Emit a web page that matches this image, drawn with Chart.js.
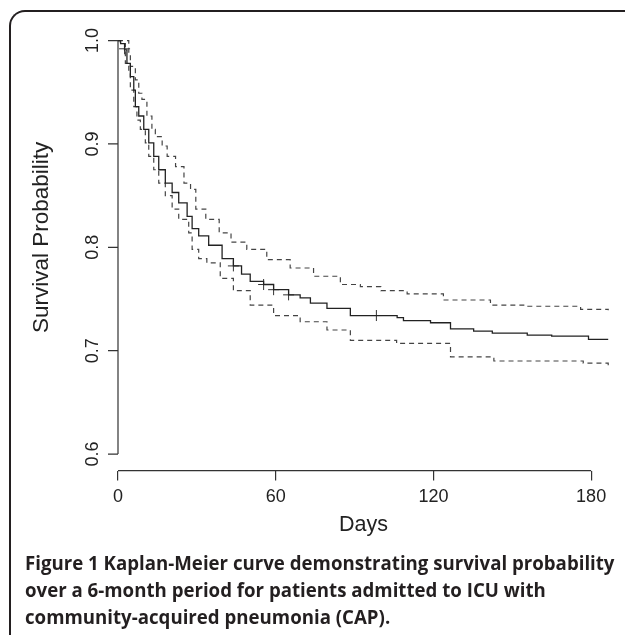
<!DOCTYPE html>
<html>
<head>
<meta charset="utf-8">
<script src="https://cdn.jsdelivr.net/npm/chart.js@4.4.1/dist/chart.umd.min.js"></script>
<style>
html, body { margin: 0; padding: 0; background: #fff; }
body { width: 625px; height: 635px; position: relative; overflow: hidden; }
#marco {
    position: absolute; left: 9px; top: 10px; width: 640px; height: 640px;
    border-top: 2px solid #231f20; border-left: 2px solid #231f20;
    border-top-left-radius: 16px; box-sizing: border-box;
}
#contenedor { position: absolute; left: 0; top: 0; width: 625px; height: 555px; }
#pie {
    position: absolute; left: 25px; top: 549px;
    font-family: "Open Sans", Lato, sans-serif; font-weight: bold; font-size: 18px;
    line-height: 27px; color: #231f20; white-space: nowrap;
}
#pie span { display: inline-block; }
</style>
</head>
<body>
<div id="marco"></div>
<div id="contenedor"><canvas id="graficaKM"></canvas></div>
<div id="pie"><span id="linea1">Figure 1 Kaplan-Meier curve demonstrating survival probability</span><br><span>over a 6-month period for patients admitted to ICU with</span><br><span>community-acquired pneumonia (CAP).</span></div>
<script>
// curva Kaplan-Meier (dias, supervivencia)
const diasKM = [0, 1, 2.5, 3.4, 4.7, 6.0, 6.6, 7.9, 9.8, 11.7, 13.6, 15.5, 18.0, 20.6, 23.1, 26.3, 28.2, 30.7, 34.5, 39.6,
    43.9, 47, 50.3, 55.4, 59.2, 64.9, 69.3, 73.2, 79.5, 88.4, 106.2, 108.6, 118.9, 126.5, 135.3, 142.4, 155.7, 165, 179, 186.5];
const valoresKM = [1.0, 0.997, 0.991, 0.978, 0.965, 0.952, 0.936, 0.927, 0.914, 0.901, 0.888, 0.875, 0.862, 0.853, 0.843, 0.830, 0.818, 0.811, 0.802, 0.789,
    0.782, 0.774, 0.767, 0.764, 0.759, 0.754, 0.751, 0.746, 0.741, 0.734, 0.732, 0.729, 0.727, 0.721, 0.719, 0.717, 0.715, 0.714, 0.711, 0.711];

// limite superior del intervalo
const diasSup = [0, 1.5, 4.1, 4.7, 6.6, 7.9, 9.1, 11, 12.9, 14.2, 16.8, 18.7, 21.9, 25.1, 27.6, 29.6, 33.4, 38.5, 43, 49,
    56.6, 65.5, 74.4, 84.6, 92.2, 100, 110, 123.8, 141.7, 155.7, 176, 186.5];
const valoresSup = [1.0, 1.0, 0.988, 0.975, 0.962, 0.949, 0.943, 0.927, 0.914, 0.907, 0.898, 0.888, 0.878, 0.862, 0.856, 0.837, 0.827, 0.814, 0.805, 0.798,
    0.788, 0.780, 0.772, 0.764, 0.762, 0.758, 0.755, 0.749, 0.744, 0.743, 0.740, 0.739];

// limite inferior del intervalo
const diasInf = [0, 0.9, 2.8, 4.1, 4.7, 6.0, 7.2, 8.5, 10.4, 11.7, 13.6, 15.5, 18.0, 20.6, 23.1, 26.9, 28.2, 30.7, 33.8, 38.9,
    43.9, 50.3, 59.2, 69.3, 79.5, 88.4, 106, 126.5, 143, 177, 186.5];
const valoresInf = [1.0, 0.997, 0.978, 0.968, 0.952, 0.936, 0.923, 0.914, 0.901, 0.888, 0.875, 0.862, 0.850, 0.837, 0.827, 0.814, 0.798, 0.789, 0.785, 0.770,
    0.758, 0.744, 0.734, 0.728, 0.720, 0.710, 0.707, 0.694, 0.690, 0.688, 0.685];

// censurados (+)
const diasCens = [2.5, 43.9, 55.4, 59.2, 64.9, 98.3];
const valoresCens = [0.992, 0.782, 0.764, 0.759, 0.754, 0.734];

const ticksX = [0, 60, 120, 180];
const ticksY = [0.6, 0.7, 0.8, 0.9, 1.0];
const etiquetasY = ['0.6', '0.7', '0.8', '0.9', '1.0'];

function puntos(xs, ys) {
    return xs.map((x, i) => ({ x: x, y: ys[i] }));
}

// ajustar el pie de figura al ancho del original
var linea1 = document.getElementById('linea1');
var pie = document.getElementById('pie');
pie.style.fontSize = (18 * 590 / linea1.offsetWidth).toFixed(2) + 'px';

// eje y estilo R (etiquetas giradas) y linea del eje x
const ejesR = {
    id: 'ejesR',
    afterDraw(chart) {
        const ctx = chart.ctx;
        const sy = chart.scales.y;
        const sx = chart.scales.x;
        const izq = chart.chartArea.left;
        const abajo = chart.chartArea.bottom;
        ctx.save();
        ctx.strokeStyle = '#333';
        ctx.lineWidth = 1.2;
        ctx.beginPath();
        ctx.moveTo(izq, sy.getPixelForValue(0.6));
        ctx.lineTo(izq, sy.getPixelForValue(1.0));
        ticksY.forEach(v => {
            const py = sy.getPixelForValue(v);
            ctx.moveTo(izq - 10, py);
            ctx.lineTo(izq, py);
        });
        ctx.moveTo(sx.getPixelForValue(0), abajo);
        ctx.lineTo(sx.getPixelForValue(180), abajo);
        ctx.stroke();

        ctx.fillStyle = '#222';
        ctx.font = '18px "Liberation Sans", Arial, sans-serif';
        ctx.textAlign = 'center';
        ctx.textBaseline = 'middle';
        etiquetasY.forEach((t, i) => {
            ctx.save();
            ctx.translate(93, sy.getPixelForValue(ticksY[i]));
            ctx.rotate(-Math.PI / 2);
            ctx.fillText(t, 0, 0);
            ctx.restore();
        });
        ctx.font = '22.5px "Liberation Sans", Arial, sans-serif';
        ctx.save();
        ctx.translate(42, sy.getPixelForValue(0.8) - 10);
        ctx.rotate(-Math.PI / 2);
        ctx.fillText('Survival Probability', 0, 0);
        ctx.restore();
        ctx.restore();
    }
};

const fuente = { family: '"Liberation Sans", Arial, sans-serif', size: 18 };
const fuenteTitulo = { family: '"Liberation Sans", Arial, sans-serif', size: 21.5 };

new Chart(document.getElementById('graficaKM').getContext('2d'), {
    type: 'line',
    data: {
        datasets: [
            {
                label: 'KM',
                data: puntos(diasKM, valoresKM),
                stepped: true,
                borderColor: '#222',
                borderWidth: 1.3,
                pointRadius: 0,
                fill: false
            },
            {
                label: 'Superior',
                data: puntos(diasSup, valoresSup),
                stepped: true,
                borderColor: '#444',
                borderWidth: 1.2,
                borderDash: [5, 4],
                pointRadius: 0,
                fill: false
            },
            {
                label: 'Inferior',
                data: puntos(diasInf, valoresInf),
                stepped: true,
                borderColor: '#444',
                borderWidth: 1.2,
                borderDash: [5, 4],
                pointRadius: 0,
                fill: false
            },
            {
                type: 'scatter',
                label: 'Censurados',
                data: puntos(diasCens, valoresCens),
                pointStyle: 'cross',
                pointRadius: 5.5,
                borderColor: '#333',
                borderWidth: 1,
                showLine: false
            }
        ]
    },
    options: {
        responsive: true,
        maintainAspectRatio: false,
        animation: false,
        layout: { padding: { left: 118, right: 16, top: 24, bottom: 17 } },
        plugins: { legend: { display: false }, tooltip: { enabled: false } },
        scales: {
            x: {
                type: 'linear',
                min: 0,
                max: 186.8,
                afterBuildTicks: s => { s.ticks = ticksX.map(v => ({ value: v })); },
                ticks: { font: fuente, color: '#222', padding: 6, maxRotation: 0, autoSkip: false, callback: v => String(v) },
                grid: { drawOnChartArea: false, drawTicks: true, tickLength: 10, color: '#333', lineWidth: 1.2 },
                border: { display: false },
                title: { display: true, text: 'Days', font: fuenteTitulo, color: '#222', padding: { top: -2, bottom: 0 } }
            },
            y: {
                type: 'linear',
                min: 0.584,
                max: 1.016,
                display: false
            }
        }
    },
    plugins: [ejesR]
});
</script>
</body>
</html>
